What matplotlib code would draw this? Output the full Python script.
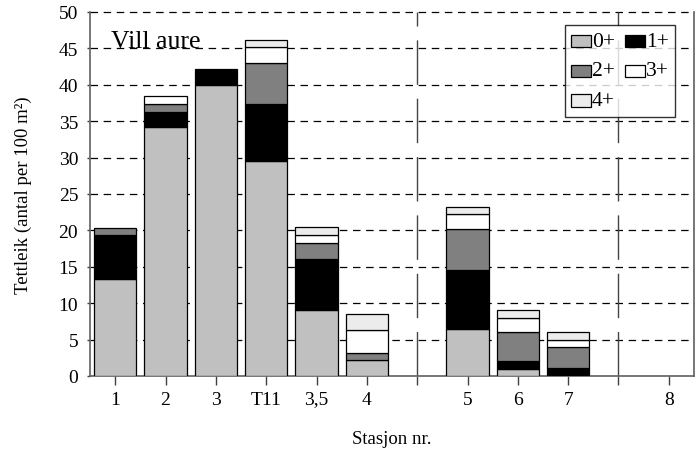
import matplotlib
matplotlib.use("Agg")
import matplotlib.pyplot as plt
from matplotlib.patches import Patch, Rectangle
from matplotlib.legend_handler import HandlerPatch
import numpy as np

categories = ['1', '2', '3', 'T11', '3,5', '4', '', '5', '6', '7', '', '8']
age0 = [13.3, 34.2, 40.0, 29.6, 9.1, 2.2, 0, 6.5, 1.0, 0, 0, 0]
age1 = [6.0, 2.1, 2.2, 7.7, 7.0, 0, 0, 8.1, 1.1, 1.05, 0, 0]
age2 = [1.0, 1.0, 0, 5.65, 2.2, 1.0, 0, 5.6, 3.9, 2.9, 0, 0]
age3 = [0, 1.1, 0, 2.2, 1.0, 3.1, 0, 2.0, 2.0, 1.0, 0, 0]
age4 = [0, 0, 0, 1.05, 1.1, 2.2, 0, 1.0, 1.0, 1.1, 0, 0]
series_labels = ['0+', '1+', '2+', '3+', '4+']
colors = ['#c0c0c0', '#000000', '#808080', '#ffffff', '#ececec']
separators = [6, 10]

plt.rcParams['font.family'] = ['Liberation Serif', 'DejaVu Serif']

fig = plt.figure(figsize=(6.95, 4.56), dpi=100)
ax = fig.add_axes([90/695, 1-377/456, 604/695, 364/456])

x = np.arange(len(categories))
bottom = np.zeros(len(categories))
for vals, col in zip([age0, age1, age2, age3, age4], colors):
    v = np.array(vals, dtype=float)
    m = v > 0
    ax.bar(x[m], v[m], bottom=bottom[m], width=0.84, color=col,
           edgecolor='black', linewidth=0.9, zorder=3)
    bottom += v

ax.set_xlim(-0.5, len(categories) - 0.5)
ax.set_ylim(0, 50)
ax.set_yticks(np.arange(0, 51, 5))
ax.set_xticks(x)
ax.set_xticklabels(categories)

for yv in range(5, 51, 5):
    ax.axhline(yv, color='black', lw=0.9, dashes=(6, 4.5), zorder=1, clip_on=False)
for s in separators:
    ax.axvline(s, color='#444444', lw=1.0, dashes=(32, 10), zorder=1)

ax.spines['top'].set_visible(False)
for sp in ['left', 'right', 'bottom']:
    ax.spines[sp].set_color('#606060')
    ax.spines[sp].set_linewidth(1.2)

ax.tick_params(axis='x', direction='out', length=6.5, width=1, color='#404040',
               labelsize=14, pad=4)
ax.tick_params(axis='y', direction='out', length=2.5, width=1, color='#404040',
               labelsize=14, pad=6)

ax.set_ylabel('Tettleik (antal per 100 m²)', fontsize=13.5, labelpad=19)
ax.set_xlabel('Stasjon nr.', fontsize=13.5, labelpad=16)

ax.text(0.035, 0.905, 'Vill aure', transform=ax.transAxes, fontsize=18.5,
        va='baseline', ha='left', zorder=5)


def lowered_patch(legend, orig_handle, xdescent, ydescent, width, height, fontsize):
    return Rectangle((-xdescent, -ydescent - 2.2), width, height)


handles = [Patch(facecolor=c, edgecolor='black', linewidth=0.9) for c in colors]
order = [0, 2, 4, 1, 3]
leg = ax.legend([handles[i] for i in order], [series_labels[i] for i in order],
                ncol=2, loc='upper right', bbox_to_anchor=(0.969, 0.964),
                borderaxespad=0, fontsize=15.5, frameon=True, fancybox=False,
                edgecolor='black', handlelength=0.9, handleheight=0.5,
                handletextpad=0.05, columnspacing=0.5, labelspacing=0.5,
                borderpad=0.3,
                handler_map={Patch: HandlerPatch(patch_func=lowered_patch)})
leg.get_frame().set_linewidth(1.0)
leg.set_zorder(6)

fig.savefig('out.png', dpi=100)
